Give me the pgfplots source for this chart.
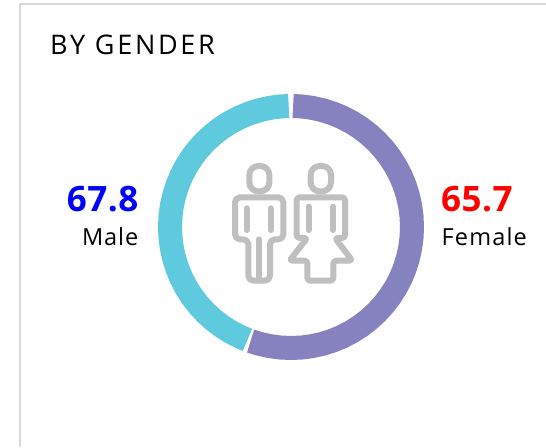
\documentclass[border=0pt]{standalone}
\usepackage{fontspec}
\setmainfont{Open Sans}
\usepackage{pgfplots}
\pgfplotsset{compat=1.18}
\definecolor{fem}{HTML}{8682BF}
\definecolor{mal}{HTML}{5FC9DD}
\definecolor{icon}{HTML}{BFBFBF}
\definecolor{frame}{HTML}{D9D9D9}
\begin{document}
\begin{tikzpicture}
\clip (0,0) rectangle (546pt,447pt);
\fill[white] (0,0) rectangle (546pt,447pt);
\begin{axis}[at={(0,0)},anchor=south west,scale only axis,width=546pt,height=447pt,
  xmin=-291,xmax=255,ymin=-220,ymax=227,hide axis,clip=false]
\addplot[data cs=polar,color=fem,line width=24pt,line cap=butt,line join=round,no markers] coordinates {
(89,121)(85,121)(80,121)(75,121)(70,121)(65,121)(60,121)(55,121)(50,121)(45,121)(40,121)(35,121)(30,121)(25,121)(20,121)(15,121)(10,121)(5,121)(0,121)(-5,121)(-10,121)(-15,121)(-20,121)(-25,121)(-30,121)(-35,121)(-40,121)(-45,121)(-50,121)(-55,121)(-60,121)(-65,121)(-70,121)(-75,121)(-80,121)(-85,121)(-90,121)(-95,121)(-100,121)(-105,121)(-109.5,121)};
\addplot[data cs=polar,color=mal,line width=24pt,line cap=butt,line join=round,no markers] coordinates {
(248.9,121)(245,121)(240,121)(235,121)(230,121)(225,121)(220,121)(215,121)(210,121)(205,121)(200,121)(195,121)(190,121)(185,121)(180,121)(175,121)(170,121)(165,121)(160,121)(155,121)(150,121)(145,121)(140,121)(135,121)(130,121)(125,121)(120,121)(115,121)(110,121)(105,121)(100,121)(95,121)(91.1,121)};
\end{axis}
% frame and text in reference pixel coordinates
\begin{scope}[x=1pt,y=-1pt,yshift=447pt]
\draw[frame,line width=2pt] (19.5,447) -- (19.5,4.2) -- (546,4.2);
\node[anchor=base west,inner sep=0,font=\fontsize{27}{27}\selectfont\addfontfeature{LetterSpace=10},text=black] at (50,55) {BY GENDER};
\node[anchor=base east,inner sep=0,font=\fontsize{35}{35}\selectfont\bfseries\addfontfeature{LetterSpace=1.5},text=blue] at (138.5,212) {67.8};
\node[anchor=base east,inner sep=0,font=\fontsize{23.5}{24}\selectfont\addfontfeature{LetterSpace=4},text=black] at (138.5,246) {Male};
\node[anchor=base west,inner sep=0,font=\fontsize{35}{35}\selectfont\bfseries\addfontfeature{LetterSpace=1.5},text=red] at (441,212) {65.7};
\node[anchor=base west,inner sep=0,font=\fontsize{23.5}{24}\selectfont\addfontfeature{LetterSpace=5},text=black] at (441.5,246) {Female};
\end{scope}
\begin{scope}[x=0.33333pt,y=-0.33333pt,shift={(220pt,297pt)},draw=icon,line width=6pt,line cap=round,line join=round]
% male
\draw[rounded corners=9pt] (88,48) rectangle (148,124);
\draw[rounded corners=5pt] (45,142) -- (190,142) -- (190,268) -- (150,268) -- (150,392) -- (85,392) -- (85,268) -- (45,268) -- cycle;
\draw (117,268) -- (117,392);
\draw (80,175) -- (80,240);
\draw (152,175) -- (152,240);
% female
\draw[rounded corners=9pt] (272,48) rectangle (333,124);
\draw[rounded corners=3pt] (230,142) -- (375,142) -- (375,264) -- (345,264) -- (397,332) -- (340,332) -- (340,392) -- (262,392) -- (262,332) -- (208,332) -- (262,264) -- (230,264) -- cycle;
\draw (266,170) -- (266,240);
\draw (339,170) -- (339,240);
\end{scope}
\end{tikzpicture}
\end{document}
